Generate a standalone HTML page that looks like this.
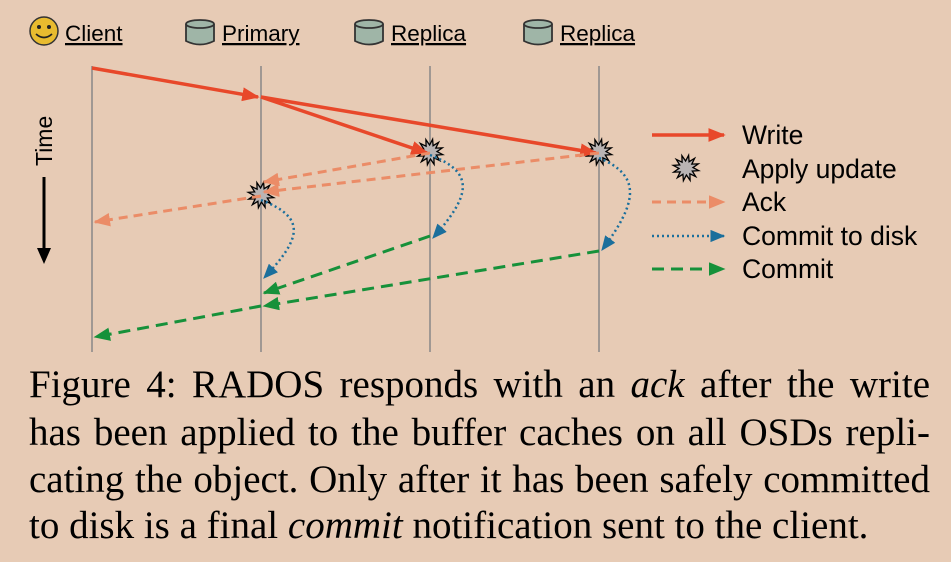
<!DOCTYPE html>
<html><head><meta charset="utf-8"><style>
html,body{margin:0;padding:0;background:#e7cbb5;}
#wrap{position:relative;width:951px;height:562px;overflow:hidden;background:#e7cbb5;}
svg text{font-family:"Liberation Sans",sans-serif;}
.cap{position:absolute;left:29px;width:901px;font-family:"Liberation Serif",serif;font-size:39px;color:#000;text-align:justify;text-align-last:justify;white-space:nowrap;line-height:47px;}
</style></head><body>
<div id="wrap">
<svg id="svg" width="951" height="360" style="position:absolute;left:0;top:0">
<defs>
<marker id="mW" markerWidth="5" markerHeight="4" refX="4.5" refY="2" orient="auto" markerUnits="strokeWidth"><path d="M0,0 L5,2 L0,4z" fill="#e8482a"/></marker>
<marker id="mA" markerWidth="5.5" markerHeight="4.5" refX="5" refY="2.25" orient="auto" markerUnits="strokeWidth"><path d="M0,0 L5.5,2.25 L0,4.5z" fill="#eb8c67"/></marker>
<marker id="mD" markerWidth="6" markerHeight="5" refX="5.5" refY="2.5" orient="auto" markerUnits="strokeWidth"><path d="M0,0 L6,2.5 L0,5z" fill="#1b6f9c"/></marker>
<marker id="mC" markerWidth="5.5" markerHeight="4.5" refX="5" refY="2.25" orient="auto" markerUnits="strokeWidth"><path d="M0,0 L5.5,2.25 L0,4.5z" fill="#16913a"/></marker>
</defs>
<g id="lifelines"></g>
<g>
<circle cx="44" cy="31" r="14" fill="#e8bb2f" stroke="#333" stroke-width="1.5"/>
<circle cx="39" cy="27" r="2" fill="#222"/><circle cx="49" cy="27" r="2" fill="#222"/>
<path d="M36,34 Q44,41 52,34" fill="none" stroke="#222" stroke-width="1.8"/>
<text x="65" y="41" font-size="22.5" text-decoration="underline">Client</text>
</g>
<g id="stars"></g>
<g id="arrows"></g>
<g>
<text x="0" y="0" font-size="23" transform="translate(52,166) rotate(-90)">Time</text>
<line x1="44" y1="177" x2="44" y2="250" stroke="#000" stroke-width="3"/>
<path d="M37,248 L51,248 L44,264z" fill="#000"/>
</g>
<g>
<line x1="652" y1="135" x2="724" y2="135" stroke="#e8482a" stroke-width="3.5" marker-end="url(#mW)"/>
<text x="742" y="144" font-size="26.5">Write</text>
<text x="742" y="178" font-size="26.5">Apply update</text>
<line x1="652" y1="202" x2="724" y2="202" stroke="#eb8c67" stroke-width="3" stroke-dasharray="9,6" marker-end="url(#mA)"/>
<text x="742" y="211" font-size="26.5">Ack</text>
<line x1="652" y1="236" x2="724" y2="236" stroke="#1b6f9c" stroke-width="2.5" stroke-dasharray="2,3" marker-end="url(#mD)"/>
<text x="742" y="245" font-size="26.5">Commit to disk</text>
<line x1="652" y1="269" x2="724" y2="269" stroke="#16913a" stroke-width="3" stroke-dasharray="12,7" marker-end="url(#mC)"/>
<text x="742" y="278" font-size="26.5">Commit</text>
</g>
</svg>
<div class="cap" style="top:361px">Figure 4: RADOS responds with an <i>ack</i> after the write</div>
<div class="cap" style="top:409px">has been applied to the buffer caches on all OSDs repli-</div>
<div class="cap" style="top:456px">cating the object. Only after it has been safely committed</div>
<div class="cap" style="top:502px;text-align-last:left">to disk is a final <i>commit</i> notification sent to the client.</div>
</div>
<script>
const NS="http://www.w3.org/2000/svg";
const lanes=["Client","Primary","Replica","Replica"];
const laneX=[92,261,430,599];
const writes=[[0,68,1,97],[1,97,2,153],[1,97,3,153]];
const acks=[[2,153,1,182],[3,153,1,192],[1,196,0,222]];
const disks=[[2,155,2,238,36],[1,200,1,278,36],[3,158,3,250,34]];
const commits=[[2,236,1,293],[3,251,1,306],[1,306,0,337]];
const stars=[[2,152],[3,152],[1,195]];
function mk(t,a,p){const e=document.createElementNS(NS,t);for(const k in a)e.setAttribute(k,a[k]);p.appendChild(e);return e;}
const L=document.getElementById('lifelines'),A=document.getElementById('arrows'),S=document.getElementById('stars'),svg=document.getElementById('svg');
lanes.forEach((n,i)=>{
 const l=mk('line',{x1:laneX[i],y1:66,x2:laneX[i],y2:352,stroke:'#888',"stroke-width":1.5},L);
 
 
 if(i>0){const x=laneX[i]-75;
  const g=mk('g',{},svg);
  
  
  mk('path',{d:`M${x},24 L${x},41 Q${x+14},48 ${x+28},41 L${x+28},24`,fill:'#9fb5a7',stroke:'#333',"stroke-width":1.8},g);
  mk('ellipse',{cx:x+14,cy:24,rx:14,ry:4,fill:'#9fb5a7',stroke:'#333',"stroke-width":1.8},g);
  const t=mk('text',{x:x+36,y:41,"font-size":22.5,"text-decoration":"underline"},svg);t.textContent=n;
  
  
 }
});
function star(cx,cy,name){let d='';for(let k=0;k<24;k++){const r=k%2?7:13,a=k*Math.PI/12+0.2;d+=(k?'L':'M')+(cx+r*Math.cos(a)).toFixed(1)+','+(cy+r*Math.sin(a)).toFixed(1);}
 const p=mk('path',{d:d+'z',fill:'#b9b4b4',stroke:'#000',"stroke-width":1.3},S);
 
 }
stars.forEach((s,i)=>star(laneX[s[0]],s[1],'apply-update-'+i));
star(686,168,'legend-apply-icon');
writes.forEach((w,i)=>{const l=mk('line',{x1:laneX[w[0]],y1:w[1],x2:laneX[w[2]]-3,y2:w[3],stroke:'#e8482a',"stroke-width":3.5,"marker-end":"url(#mW)"},A);
 
 });
acks.forEach((w,i)=>{const l=mk('line',{x1:laneX[w[0]],y1:w[1],x2:laneX[w[2]]+3,y2:w[3],stroke:'#eb8c67',"stroke-width":3,"stroke-dasharray":"9,6","marker-end":"url(#mA)"},A);
 
 });
disks.forEach((w,i)=>{const x=laneX[w[0]],y1=w[1],y2=w[3],b=w[4],m=(y1+y2)/2;
 const p=mk('path',{d:`M${x},${y1} C${x+b*1.3},${y1+18} ${x+b*1.1},${m} ${x+3},${y2}`,fill:'none',stroke:'#1b6f9c',"stroke-width":2.5,"stroke-dasharray":"2,3","marker-end":"url(#mD)"},A);
 
 });
commits.forEach((w,i)=>{const l=mk('line',{x1:laneX[w[0]],y1:w[1],x2:laneX[w[2]]+3,y2:w[3],stroke:'#16913a',"stroke-width":3,"stroke-dasharray":"12,7","marker-end":"url(#mC)"},A);
 
 });
</script>
</body></html>
